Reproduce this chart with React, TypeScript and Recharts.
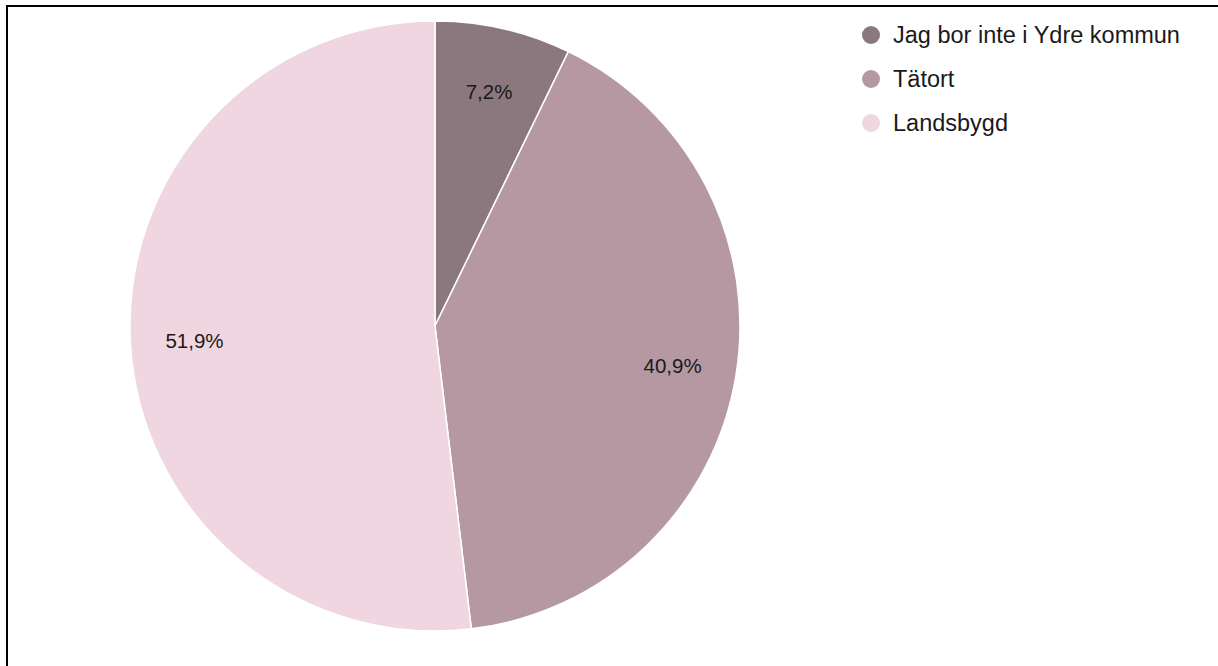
import React from 'react';
import { PieChart, Pie, Cell } from 'recharts';

const categories = ['Jag bor inte i Ydre kommun', 'Tätort', 'Landsbygd'];
const shares = [7.2, 40.9, 51.9];
const colors = ['#8a787e', '#b698a3', '#f0d6e0'];

const data = categories.map((name, i) => ({ name, value: shares[i] }));

const FONT = '"Liberation Sans", Arial, sans-serif';
const RADIAN = Math.PI / 180;

const renderLabel = (props: any) => {
    const { cx, cy, midAngle, outerRadius, value } = props;
    const r = outerRadius * 0.79;
    const x = cx + r * Math.cos(-midAngle * RADIAN);
    const y = cy + r * Math.sin(-midAngle * RADIAN);
    return (
        <text
            x={x}
            y={y}
            fill="#1a1a1a"
            textAnchor="middle"
            dominantBaseline="central"
            style={{ fontFamily: FONT, fontSize: 20.5 }}
        >
            {`${value.toFixed(1).replace('.', ',')}%`}
        </text>
    );
};

export default function App() {
    return (
        <div style={{ position: 'absolute', left: 0, top: 0, width: 1218, height: 666, background: '#fff', overflow: 'hidden' }}>
            <div
                style={{
                    position: 'absolute',
                    left: 6,
                    top: 5,
                    width: 1240,
                    height: 700,
                    borderTop: '2px solid #000',
                    borderLeft: '2px solid #000',
                }}
            />
            <div style={{ position: 'absolute', left: 0, top: 0 }}>
                <PieChart width={1218} height={666} margin={{ top: 0, right: 0, bottom: 0, left: 0 }}>
                    <Pie
                        data={data}
                        dataKey="value"
                        nameKey="name"
                        cx={435}
                        cy={326}
                        outerRadius={305}
                        startAngle={90}
                        endAngle={-270}
                        stroke="#ffffff"
                        strokeWidth={1.5}
                        label={renderLabel}
                        labelLine={false}
                        isAnimationActive={false}
                    >
                        {data.map((d, i) => (
                            <Cell key={d.name} fill={colors[i]} />
                        ))}
                    </Pie>
                </PieChart>
            </div>
            {/* legend */}
            <ul style={{ position: 'absolute', left: 862, top: 13, listStyle: 'none', margin: 0, padding: 0 }}>
                {categories.map((name, i) => (
                    <li key={name} style={{ display: 'flex', alignItems: 'center', height: 44 }}>
                        <span
                            style={{
                                display: 'inline-block',
                                width: 18,
                                height: 18,
                                borderRadius: '50%',
                                background: colors[i],
                                marginRight: 13,
                            }}
                        />
                        <span style={{ fontFamily: FONT, fontSize: 23.5, color: '#1a1a1a', whiteSpace: 'nowrap' }}>{name}</span>
                    </li>
                ))}
            </ul>
        </div>
    );
}
